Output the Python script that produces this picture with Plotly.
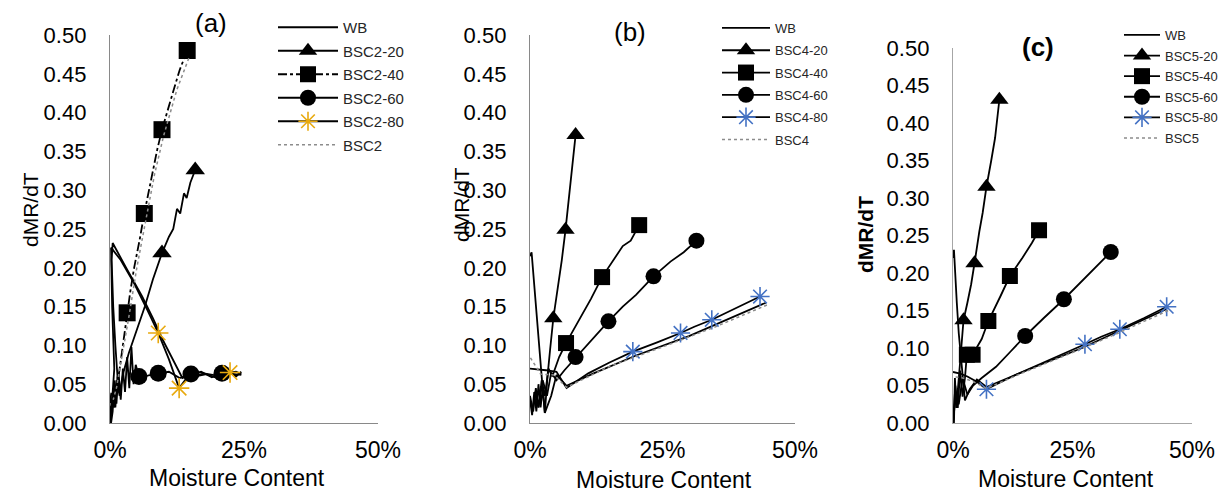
import plotly.graph_objects as go

# ---------------- data (moisture content fraction, dMR/dT) ----------------
# Panel (a)
a_wb_x = [0.245, 0.22, 0.2, 0.18, 0.16, 0.145, 0.135, 0.115, 0.10, 0.08, 0.06, 0.03, 0.005, 0.003, 0.006, 0.01, 0.014, 0.018, 0.012, 0.008, 0.004, 0.0]
a_wb_y = [0.062, 0.064, 0.058, 0.063, 0.06, 0.061, 0.058, 0.085, 0.105, 0.135, 0.163, 0.2, 0.232, 0.21, 0.15, 0.1, 0.06, 0.035, 0.055, 0.02, 0.03, 0.005]
a_20_x = [0.159, 0.15, 0.143, 0.138, 0.131, 0.125, 0.118, 0.11, 0.097, 0.08, 0.065, 0.05, 0.035, 0.025, 0.018, 0.014, 0.01, 0.006, 0.003, 0.001]
a_20_y = [0.326, 0.31, 0.29, 0.296, 0.27, 0.276, 0.25, 0.24, 0.219, 0.185, 0.15, 0.12, 0.09, 0.065, 0.04, 0.06, 0.02, 0.045, 0.01, 0.0]
a_20_m = [0, 8]
a_40_x = [0.144, 0.13, 0.12, 0.108, 0.097, 0.088, 0.08, 0.072, 0.064, 0.055, 0.045, 0.038, 0.032, 0.026, 0.021, 0.016, 0.012, 0.008, 0.005, 0.002, 0.0]
a_40_y = [0.48, 0.455, 0.432, 0.405, 0.378, 0.352, 0.325, 0.298, 0.27, 0.235, 0.2, 0.17, 0.142, 0.11, 0.085, 0.06, 0.035, 0.055, 0.02, 0.04, 0.0]
a_40_m = [0, 4, 8, 12]
a_60_x = [0.245, 0.235, 0.224, 0.209, 0.19, 0.17, 0.151, 0.13, 0.11, 0.09, 0.07, 0.054, 0.048, 0.044, 0.04, 0.036, 0.032, 0.028, 0.024, 0.02, 0.016, 0.012, 0.008, 0.005, 0.002]
a_60_y = [0.066, 0.06, 0.067, 0.064, 0.059, 0.066, 0.063, 0.058, 0.066, 0.064, 0.061, 0.06, 0.075, 0.05, 0.098, 0.045, 0.085, 0.04, 0.07, 0.03, 0.065, 0.025, 0.05, 0.015, 0.0]
a_60_m = [3, 6, 9, 11]
a_80_x = [0.245, 0.235, 0.224, 0.2, 0.175, 0.155, 0.14, 0.129, 0.11, 0.09, 0.07, 0.045, 0.02, 0.002, 0.004, 0.008, 0.004, 0.0]
a_80_y = [0.063, 0.066, 0.065, 0.061, 0.064, 0.06, 0.055, 0.045, 0.082, 0.116, 0.145, 0.18, 0.21, 0.226, 0.15, 0.07, 0.03, 0.01]
a_80_m = [2, 7, 9]
a_bs_x = [0.147, 0.125, 0.1, 0.083, 0.067, 0.05, 0.036, 0.026, 0.019, 0.012, 0.006]
a_bs_y = [0.47, 0.43, 0.37, 0.32, 0.262, 0.2, 0.14, 0.1, 0.07, 0.045, 0.03]

# Panel (b)
b_wb_x = [0.445, 0.38, 0.3, 0.2, 0.12, 0.069, 0.05, 0.04, 0.032, 0.028, 0.022, 0.016, 0.01, 0.005, 0.003, 0.0]
b_wb_y = [0.155, 0.136, 0.112, 0.087, 0.064, 0.048, 0.062, 0.035, 0.02, 0.013, 0.06, 0.11, 0.16, 0.2, 0.22, 0.215]
b_20_x = [0.086, 0.08, 0.075, 0.067, 0.06, 0.052, 0.044, 0.038, 0.033, 0.028, 0.024, 0.02, 0.016, 0.012, 0.008, 0.004, 0.0]
b_20_y = [0.371, 0.33, 0.3, 0.249, 0.21, 0.17, 0.135, 0.095, 0.06, 0.013, 0.045, 0.02, 0.05, 0.015, 0.04, 0.01, 0.03]
b_20_m = [0, 3, 6]
b_40_x = [0.206, 0.19, 0.175, 0.16, 0.136, 0.115, 0.09, 0.068, 0.055, 0.042, 0.035, 0.028, 0.022, 0.016, 0.011, 0.006, 0.0]
b_40_y = [0.255, 0.235, 0.228, 0.212, 0.188, 0.16, 0.13, 0.103, 0.085, 0.06, 0.07, 0.035, 0.055, 0.02, 0.045, 0.015, 0.035]
b_40_m = [0, 4, 7]
b_60_x = [0.314, 0.29, 0.265, 0.233, 0.2, 0.175, 0.148, 0.12, 0.086, 0.065, 0.05, 0.04, 0.032, 0.024, 0.016, 0.01, 0.005, 0.0]
b_60_y = [0.235, 0.22, 0.208, 0.189, 0.165, 0.15, 0.131, 0.11, 0.085, 0.068, 0.055, 0.065, 0.035, 0.055, 0.02, 0.04, 0.015, 0.03]
b_60_m = [0, 3, 6, 8]
b_80_x = [0.434, 0.39, 0.343, 0.31, 0.284, 0.24, 0.194, 0.15, 0.11, 0.069, 0.05, 0.03, 0.01, 0.0]
b_80_y = [0.163, 0.149, 0.133, 0.124, 0.116, 0.104, 0.092, 0.078, 0.064, 0.045, 0.066, 0.068, 0.069, 0.07]
b_80_m = [0, 2, 4, 6]
b_bs_x = [0.447, 0.35, 0.25, 0.15, 0.069, 0.045, 0.02, 0.0]
b_bs_y = [0.152, 0.124, 0.098, 0.073, 0.046, 0.062, 0.063, 0.085]

# Panel (c)
c_wb_x = [0.447, 0.36, 0.27, 0.18, 0.11, 0.07, 0.05, 0.035, 0.025, 0.018, 0.012, 0.008, 0.004, 0.002, 0.0]
c_wb_y = [0.152, 0.126, 0.1, 0.077, 0.058, 0.048, 0.058, 0.045, 0.03, 0.075, 0.12, 0.16, 0.2, 0.231, 0.22]
c_20_x = [0.097, 0.088, 0.08, 0.07, 0.062, 0.055, 0.045, 0.038, 0.03, 0.022, 0.016, 0.011, 0.007, 0.004, 0.002, 0.0]
c_20_y = [0.431, 0.38, 0.35, 0.315, 0.28, 0.255, 0.213, 0.185, 0.16, 0.137, 0.09, 0.05, 0.02, 0.06, 0.0, 0.02]
c_20_m = [0, 3, 6, 9]
c_40_x = [0.18, 0.165, 0.145, 0.119, 0.1, 0.088, 0.074, 0.06, 0.041, 0.035, 0.029, 0.025, 0.02, 0.015, 0.01, 0.005, 0.0]
c_40_y = [0.257, 0.24, 0.22, 0.196, 0.17, 0.155, 0.136, 0.112, 0.091, 0.09, 0.091, 0.06, 0.035, 0.07, 0.02, 0.05, 0.0]
c_40_m = [0, 3, 6, 8, 10]
c_60_x = [0.33, 0.28, 0.232, 0.19, 0.151, 0.12, 0.09, 0.06, 0.042, 0.03, 0.02, 0.012, 0.006, 0.0]
c_60_y = [0.228, 0.196, 0.165, 0.14, 0.116, 0.095, 0.075, 0.06, 0.05, 0.038, 0.06, 0.025, 0.04, 0.0]
c_60_m = [0, 2, 4]
c_80_x = [0.447, 0.4, 0.349, 0.31, 0.276, 0.2, 0.13, 0.07, 0.05, 0.03, 0.015, 0.0]
c_80_y = [0.155, 0.14, 0.125, 0.115, 0.105, 0.084, 0.064, 0.045, 0.055, 0.062, 0.066, 0.068]
c_80_m = [0, 2, 4, 7]
c_bs_x = [0.45, 0.35, 0.25, 0.15, 0.07, 0.04, 0.02, 0.0]
c_bs_y = [0.15, 0.121, 0.094, 0.068, 0.046, 0.056, 0.06, 0.062]

legend_a = ["WB", "BSC2-20", "BSC2-40", "BSC2-60", "BSC2-80", "BSC2"]
legend_b = ["WB", "BSC4-20", "BSC4-40", "BSC4-60", "BSC4-80", "BSC4"]
legend_c = ["WB", "BSC5-20", "BSC5-40", "BSC5-60", "BSC5-80", "BSC5"]

x_ticks = [0, 0.25, 0.5]
x_tick_text = ["0%", "25%", "50%"]
y_ticks = [0, 0.05, 0.1, 0.15, 0.2, 0.25, 0.3, 0.35, 0.4, 0.45, 0.5]

# ---------------- figure ----------------
W, H = 1225, 496
FONT = "Liberation Sans, Arial, sans-serif"
fig = go.Figure()

def px_x(p):
    return p / W

def px_y(p):
    return 1 - p / H

panels = [
    dict(ax="", leg="legend", star="#E8A90E", names=legend_a, ms=17, sq_dash="dashdot",
         series=[(a_wb_x, a_wb_y, None), (a_20_x, a_20_y, a_20_m), (a_40_x, a_40_y, a_40_m),
                 (a_60_x, a_60_y, a_60_m), (a_80_x, a_80_y, a_80_m), (a_bs_x, a_bs_y, None)]),
    dict(ax="2", leg="legend2", star="#4472C4", names=legend_b, ms=16, sq_dash="solid",
         series=[(b_wb_x, b_wb_y, None), (b_20_x, b_20_y, b_20_m), (b_40_x, b_40_y, b_40_m),
                 (b_60_x, b_60_y, b_60_m), (b_80_x, b_80_y, b_80_m), (b_bs_x, b_bs_y, None)]),
    dict(ax="3", leg="legend3", star="#4472C4", names=legend_c, ms=16, sq_dash="solid",
         series=[(c_wb_x, c_wb_y, None), (c_20_x, c_20_y, c_20_m), (c_40_x, c_40_y, c_40_m),
                 (c_60_x, c_60_y, c_60_m), (c_80_x, c_80_y, c_80_m), (c_bs_x, c_bs_y, None)]),
]

symbols = [None, "triangle-up", "square", "circle", "asterisk-open", None]

for p in panels:
    for k, ((xs, ys, marks), name) in enumerate(zip(p["series"], p["names"])):
        dotted = k == 5
        dash = "dot" if dotted else (p["sq_dash"] if k == 2 else "solid")
        line = dict(color="#8c8c8c" if dotted else "black", width=1.5 if dotted else 1.8, dash=dash)
        kw = dict(x=xs, y=ys, name=name, line=line, xaxis="x" + p["ax"], yaxis="y" + p["ax"],
                  legend=p["leg"], legendgroup=p["leg"] + name)
        if marks is not None:
            sym = symbols[k]
            if sym == "asterisk-open":
                mk = dict(symbol=sym, size=p["ms"], color=p["star"], opacity=1,
                          line=dict(color=p["star"], width=1.6))
            else:
                mk = dict(symbol=sym, size=p["ms"], color="black", opacity=1, line=dict(width=0))
            fig.add_trace(go.Scatter(mode="lines+markers", marker=mk, selectedpoints=marks,
                                     selected=dict(marker=dict(opacity=1)),
                                     unselected=dict(marker=dict(opacity=0)), **kw))
        else:
            fig.add_trace(go.Scatter(mode="lines", **kw))

# axes
doms = [
    ((110, 378), (423, 35), "#898989"),
    ((530, 795), (423, 35), "#898989"),
    ((953, 1192), (423, 48), "#a6a6a6"),
]
for i, ((x0, x1), (yb, yt), lc) in enumerate(doms):
    sfx = "" if i == 0 else str(i + 1)
    fig.update_layout(**{
        "xaxis" + sfx: dict(domain=[px_x(x0), px_x(x1)], range=[0, 0.5], tickvals=x_ticks,
                            ticktext=x_tick_text, showgrid=False, zeroline=False, showline=True,
                            linecolor=lc, linewidth=1.3, ticks="outside", ticklen=6,
                            tickcolor="rgba(0,0,0,0)", tickfont=dict(size=23, color="black", family=FONT),
                            anchor="y" + sfx, fixedrange=True),
        "yaxis" + sfx: dict(domain=[px_y(yb), px_y(yt)], range=[0, 0.5], tickvals=y_ticks,
                            tickformat=".2f", showgrid=False, zeroline=False, showline=True,
                            linecolor=lc, linewidth=1.3, ticks="outside", ticklen=18,
                            tickcolor="rgba(0,0,0,0)", tickfont=dict(size=22, color="black", family=FONT),
                            anchor="x" + sfx, fixedrange=True),
    })

annos = []
# x titles
for cx, cy in [(237, 478), (664, 480), (1066, 479)]:
    annos.append(dict(x=px_x(cx), y=px_y(cy), xref="paper", yref="paper", text="Moisture Content",
                      showarrow=False, font=dict(size=23, color="black", family=FONT),
                      xanchor="center", yanchor="middle"))
# y titles
for cx, cy, bold in [(31, 210, False), (461, 205, False), (865, 235, True)]:
    annos.append(dict(x=px_x(cx), y=px_y(cy), xref="paper", yref="paper",
                      text="<b>dMR/dT</b>" if bold else "dMR/dT", textangle=-90,
                      showarrow=False, font=dict(size=21, color="black", family=FONT),
                      xanchor="center", yanchor="middle"))
# panel labels
for cx, cy, t in [(211, 23, "(a)"), (630, 32, "(b)"), (1038, 47, "<b>(c)</b>")]:
    annos.append(dict(x=px_x(cx), y=px_y(cy), xref="paper", yref="paper", text=t,
                      showarrow=False, font=dict(size=26, color="black", family=FONT),
                      xanchor="center", yanchor="middle"))

def leg(xpx, ypx, size, gap, iw):
    return dict(x=px_x(xpx), y=px_y(ypx), xanchor="left", yanchor="top",
                bgcolor="rgba(0,0,0,0)", font=dict(size=size, color="#262626", family=FONT),
                itemsizing="trace", tracegroupgap=gap, traceorder="grouped", itemwidth=iw)

fig.update_layout(
    width=W, height=H, margin=dict(l=0, r=0, t=0, b=0, autoexpand=False),
    paper_bgcolor="white", plot_bgcolor="white",
    font=dict(family=FONT, color="black"),
    annotations=annos,
    legend=leg(273, 11, 15, 1, 60),
    legend2=leg(717, 13, 13, 2.4, 48),
    legend3=leg(1119, 20, 13, 0.7, 36),
    showlegend=True,
)

fig.write_html("out.html", config={"displayModeBar": False},
               post_script="document.body.style.margin='0px';")
